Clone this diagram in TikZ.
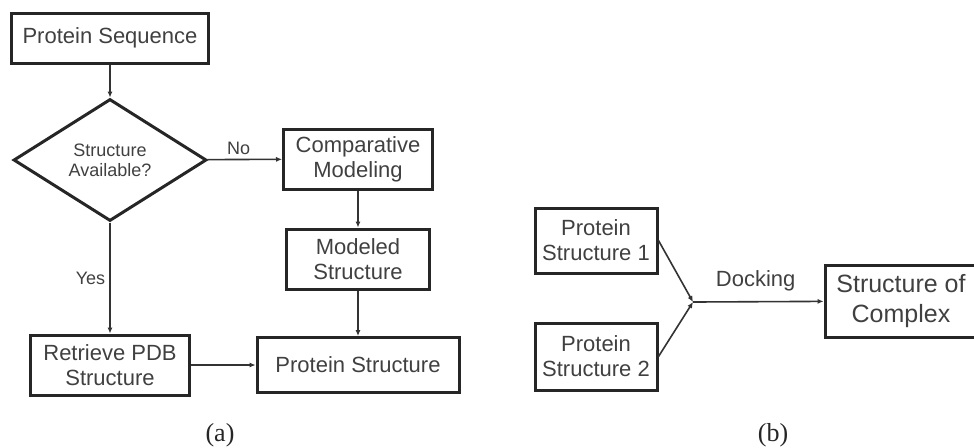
\documentclass[tikz,border=0pt]{standalone}
\usepackage{fontspec}
\setmainfont{Liberation Sans}
\newfontfamily\capfont{Liberation Serif}
\usepackage{xcolor}
\usetikzlibrary{positioning, shapes.geometric, arrows.meta}
\tikzstyle{block} = [rectangle, draw=black!85, line width=1.5pt, text=black!75,
    align=center, inner sep=0pt, font=\fontsize{11}{12.5}\selectfont]
\tikzstyle{decision} = [diamond, draw=black!85, line width=1.5pt, aspect=1.6, inner sep=1pt,
    text=black!75, align=center, font=\fontsize{9}{10}\selectfont,
    minimum width=96.5pt, minimum height=61pt]
\tikzstyle{conn} = [draw=black!80, line width=0.8pt]
\tikzstyle{tag} = [text=black!75, font=\fontsize{9}{10}\selectfont]
\tikzstyle{caption} = [text=black!85, font=\capfont\fontsize{13}{15}\selectfont]
\tikzstyle{junction} = [coordinate]

\begin{document}
\begin{tikzpicture}[x=0.5pt, y=-0.5pt, >={Latex[length=3pt,width=2.6pt]}]
                      \useasboundingbox (0,0) rectangle (974,447);
                      % Nodes (a)
                      \node [block, minimum width=98.5pt, minimum height=25pt] (seq) at (110,38) {Protein Sequence};
                      \node [decision] (avail) at (110,160) {Structure\\Available?};
                      \node [block, minimum width=74.5pt, minimum height=30pt] (comp) at (358,159) {Comparative\\Modeling};
                      \node [block, minimum width=71.5pt, minimum height=30pt] (model) at (358,259) {Modeled\\Structure};
                      \node [block, minimum width=101pt, minimum height=27.5pt] (pstruct) at (358,365) {Protein Structure};
                      \node [block, minimum width=79.5pt, minimum height=30pt] (pdb) at (110,365) {Retrieve PDB\\Structure};

                      % Nodes (b)
                      \node [block, minimum width=61pt, minimum height=32.5pt] (ps1) at (596,240.5) {Protein\\Structure 1};
                      \node [block, minimum width=61pt, minimum height=33.5pt] (ps2) at (596,356.5) {Protein\\Structure 2};
                      \node [junction] (dock) at (693,302) {};
                      \node [block, minimum width=76pt, minimum height=36pt, font=\fontsize{12.5}{15}\selectfont] (cplx) at (901,301) {Structure of\\Complex};

                      % Captions
                      \node [caption] (capa) at (220,435) {(a)};
                      \node [caption] (capb) at (773,435) {(b)};

                      % Connections
                      \draw [conn,->] (seq) -- (avail);
                      \draw [conn,->] (avail) -- node[tag, above, inner sep=2pt, pos=0.42] {No} (comp);
                      \draw [conn,->] (avail) -- node[tag, left, inner sep=2pt, pos=0.5] {Yes} (pdb);
                      \draw [conn,->] (comp) -- (model);
                      \draw [conn,->] (model) -- (pstruct);
                      \draw [conn,->] (pdb) -- (pstruct);

                      % Docking
                      \draw [conn,->] (ps1.east) -- (dock);
                      \draw [conn,->] (ps2.east) -- (dock);
                      \draw [conn,->] (dock) -- node[above, inner sep=5pt, pos=0.48, text=black!75, font=\fontsize{11}{12.5}\selectfont] {Docking} (cplx);

                  \end{tikzpicture}
\end{document}
